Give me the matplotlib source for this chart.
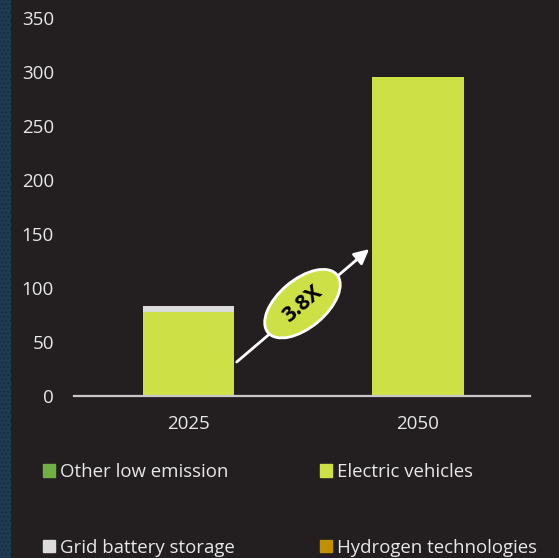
import matplotlib.pyplot as plt
from matplotlib.patches import Rectangle, Ellipse, Patch
from matplotlib.transforms import ScaledTranslation

plt.rcParams['font.family'] = ['Open Sans', 'DejaVu Sans']

# data
years = ['2025', '2050']
electric_vehicles = [78, 295]
grid_battery = [5, 0]
other_low_emission = [0, 0]
hydrogen = [0, 0]
multiplier_label = '3.8X'

bg = '#231f20'
c_ev = '#cde046'
c_grid = '#dcdcdc'
c_other = '#72b043'
c_h2 = '#c09000'
txt = '#e8e8e8'

fig = plt.figure(figsize=(5.59, 5.58), dpi=100, facecolor=bg)
# textured strip on the left edge
fig.patches.append(Rectangle((0, 0), 11 / 559, 1, transform=fig.transFigure,
                             facecolor='#1d3c52', edgecolor='#15303f',
                             hatch='....', lw=0, zorder=0))

ax = fig.add_axes([74 / 559, 162 / 558, 456 / 559, 378 / 558])
ax.set_facecolor(bg)

x = list(range(len(years)))
ax.bar(x, electric_vehicles, width=0.40, color=c_ev, zorder=2)
bottom2 = [a + b for a, b in zip(electric_vehicles, other_low_emission)]
ax.bar(x, other_low_emission, width=0.40, bottom=electric_vehicles, color=c_other, zorder=2)
ax.bar(x, grid_battery, width=0.40, bottom=bottom2, color=c_grid, zorder=2)

ax.set_xlim(-0.5, 1.49)
ax.set_ylim(0, 350)
ax.set_yticks(range(0, 351, 50))
ax.set_xticks(x)
ax.set_xticklabels(years)
ax.tick_params(axis='y', length=0, pad=14.5, labelsize=13.5, labelcolor=txt)
ax.tick_params(axis='x', length=0, pad=13.5, labelsize=13.5, labelcolor=txt)

for s in ['top', 'right', 'left']:
    ax.spines[s].set_visible(False)
ax.spines['bottom'].set_color('#c8c8c8')
ax.spines['bottom'].set_linewidth(1.6)

# growth arrow with badge
ax.annotate('', xy=(0.788, 136), xytext=(0.21, 31.5),
            arrowprops=dict(arrowstyle='-|>', color='white', lw=2,
                            mutation_scale=22, shrinkA=0, shrinkB=0),
            zorder=3)
cx, cy = 0.497, 85.5
off = ScaledTranslation(cx, cy, ax.transData)
ell = Ellipse((0, 0), width=0.9, height=0.48, angle=40,
              transform=fig.dpi_scale_trans + off,
              facecolor=c_ev, edgecolor='white', lw=2, zorder=4)
ax.add_patch(ell)
ax.text(cx, cy, multiplier_label, rotation=41, ha='center', va='center',
        rotation_mode='anchor', fontsize=15.5, fontweight='bold',
        color='black', zorder=5)

handles = [Patch(color=c_other, label='Other low emission'),
           Patch(color=c_grid, label='Grid battery storage'),
           Patch(color=c_ev, label='Electric vehicles'),
           Patch(color=c_h2, label='Hydrogen technologies')]
fig.legend(handles=handles, ncol=2, loc='upper left',
           bbox_to_anchor=(43 / 559, 1 - 463 / 558), frameon=False,
           fontsize=13.4, labelcolor=txt, handlelength=0.67, handleheight=0.67,
           handletextpad=0.27, labelspacing=3.1, columnspacing=4.55,
           borderpad=0, borderaxespad=0)

fig.savefig('out.png', dpi=100, facecolor=bg)
